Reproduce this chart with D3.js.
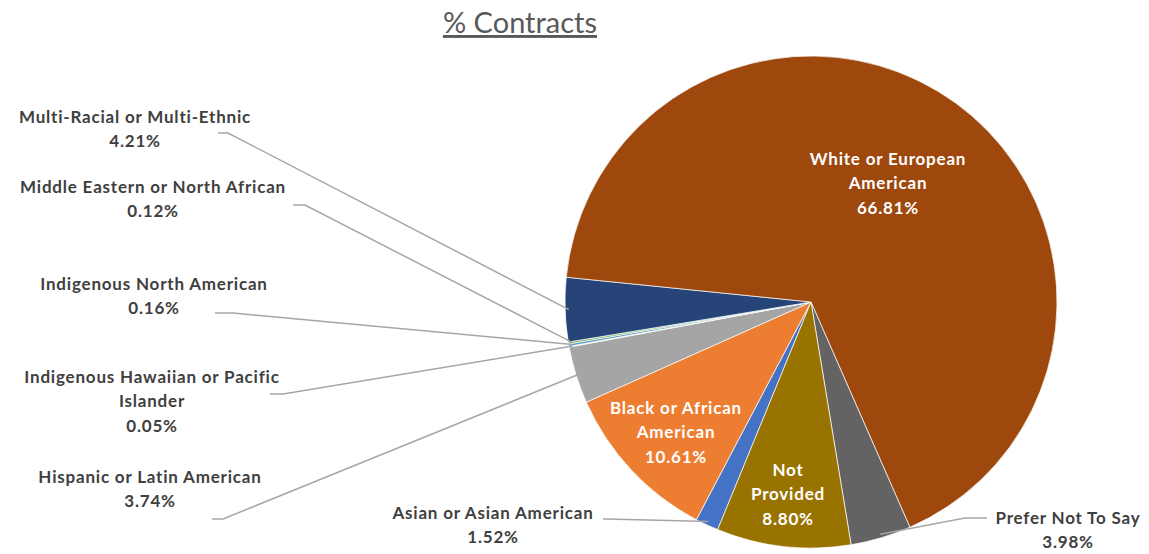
<!DOCTYPE html>
<html lang="en">
<head>
  <meta charset="UTF-8">
  <title>% Contracts</title>
  <script src="https://cdn.jsdelivr.net/npm/d3@7"></script>
  <style>
    body { margin: 0; background: #fff; }
    text { font-family: Lato, 'Noto Sans', sans-serif; }
  </style>
</head>
<body>
  <svg width="1149" height="554"></svg>
  <script>
    // data, in the order the slices run clockwise
    var categories = ['Asian or Asian American', 'Black or African American', 'Hispanic or Latin American',
      'Indigenous Hawaiian or Pacific Islander', 'Indigenous North American', 'Middle Eastern or North African',
      'Multi-Racial or Multi-Ethnic', 'White or European American', 'Prefer Not To Say', 'Not Provided']
    var shares = [1.52, 10.61, 3.74, 0.05, 0.16, 0.12, 4.21, 66.81, 3.98, 8.80]
    var colors = ['#4472C4', '#ED7D31', '#A5A5A5', '#FFC000', '#5B9BD5', '#70AD47',
      '#264478', '#9E480E', '#636363', '#997300']

    // label layout: wrapped lines, centre x, first baseline, leader start / elbow
    var layout = [
      { lines: ['Asian or Asian American'], x: 493, y: 519, lead: [[603, 519], [607, 519]], inside: false },
      { lines: ['Black or African', 'American'], x: 676, y: 414, inside: true },
      { lines: ['Hispanic or Latin American'], x: 150, y: 483, lead: [[212, 519], [223, 519]], inside: false },
      { lines: ['Indigenous Hawaiian or Pacific', 'Islander'], x: 152, y: 383, lead: [[270, 394], [283, 394]], inside: false },
      { lines: ['Indigenous North American'], x: 154, y: 290, lead: [[215, 313], [233, 313]], inside: false },
      { lines: ['Middle Eastern or North African'], x: 153, y: 193, lead: [[293, 205], [305, 205]], inside: false },
      { lines: ['Multi-Racial or Multi-Ethnic'], x: 135, y: 123, lead: [[218, 133], [228, 133]], inside: false },
      { lines: ['White or European', 'American'], x: 888, y: 165, inside: true },
      { lines: ['Prefer Not To Say'], x: 1068, y: 524, lead: [[987, 518], [965, 518]], inside: false },
      { lines: ['Not', 'Provided'], x: 788, y: 476, inside: true }
    ]

    var svg = d3.select('svg')
    var cx = 811, cy = 302, radius = 246
    var start = 202.3 * Math.PI / 180

    svg.append('text')
      .attr('x', 520)
      .attr('y', 33)
      .attr('text-anchor', 'middle')
      .style('font-size', '29px')
      .style('fill', '#595959')
      .style('text-decoration', 'underline')
      .text('% Contracts')

    var pie = d3.pie()
      .sort(null)
      .startAngle(start)
      .endAngle(start + 2 * Math.PI)
    var arcs = pie(shares)
    var arc = d3.arc().innerRadius(0).outerRadius(radius)
    var rim = d3.arc().innerRadius(radius * 0.985).outerRadius(radius * 0.985)

    var g = svg.append('g')
      .attr('transform', `translate(${cx},${cy})`)

    g.selectAll('.slice')
      .data(arcs)
      .enter()
      .append('path')
      .attr('class', 'slice')
      .attr('d', arc)
      .attr('fill', (d, i) => colors[i])
      .attr('stroke', '#fff')
      .attr('stroke-width', 0.7)

    // leader lines
    var lineGen = d3.line()
    arcs.forEach((d, i) => {
      var L = layout[i]
      if (L.inside) return
      var p = rim.centroid(d)
      var pts = [L.lead[0], L.lead[1], [p[0] + cx, p[1] + cy]]
      svg.append('path')
        .attr('d', lineGen(pts))
        .attr('fill', 'none')
        .attr('stroke', '#A6A6A6')
        .attr('stroke-width', 1.5)
    })

    // labels
    arcs.forEach((d, i) => {
      var L = layout[i]
      var lines = L.lines.concat([d3.format('.2f')(shares[i]) + '%'])
      var t = svg.append('text')
        .attr('text-anchor', 'middle')
        .style('font-size', '17px')
        .style('font-weight', 700)
        .style('letter-spacing', '0.8px')
        .style('fill', L.inside ? '#fff' : '#404040')
      lines.forEach((s, k) => {
        t.append('tspan')
          .attr('x', L.x)
          .attr('y', L.y + k * 24.3)
          .text(s)
      })
    })
  </script>
</body>
</html>
